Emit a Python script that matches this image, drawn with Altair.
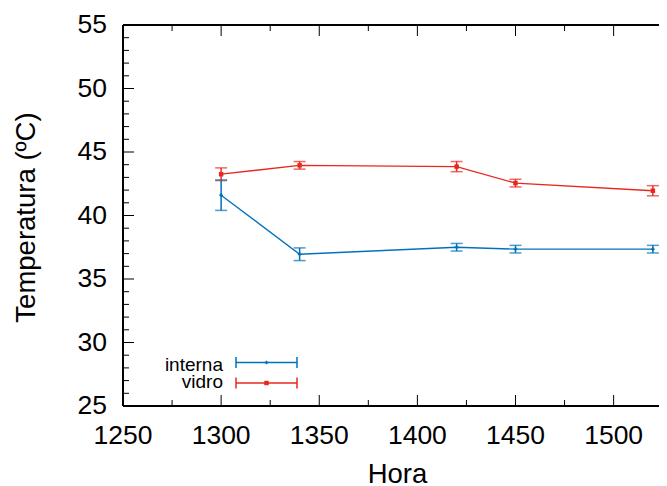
import altair as alt
import pandas as pd

# ---- data ----
hora = [1300, 1340, 1420, 1450, 1520]
interna = [41.6, 36.95, 37.5, 37.35, 37.35]
interna_err = [1.2, 0.5, 0.3, 0.3, 0.3]
vidro = [43.25, 43.95, 43.85, 42.55, 41.95]
vidro_err = [0.5, 0.3, 0.4, 0.3, 0.4]
series_names = ["interna", "vidro"]
series_colors = ["#0072bd", "#e8281e"]
x_labels = [1250, 1300, 1350, 1400, 1450, 1500]
y_labels = [25, 30, 35, 40, 45, 50, 55]
x_major = [1300, 1350, 1400, 1450, 1500]
x_minor = [1275, 1325, 1375, 1425, 1475]
y_major = [30, 35, 40, 45, 50]
y_minor = [v for v in range(26, 55) if v % 5 != 0]
x_title = "Hora"
y_title = "Temperatura (ºC)"

rows = []
for name, vals, errs in [("interna", interna, interna_err), ("vidro", vidro, vidro_err)]:
    for h, v, e in zip(hora, vals, errs):
        rows.append({"hora": h, "serie": name, "temp": v, "lo": v - e, "hi": v + e})
df = pd.DataFrame(rows)

W, H = 536, 381
FONT = "Liberation Sans"
FS = 26.5
TFS = 27.5
MAJ, MIN = 11, 6

xscale = alt.Scale(domain=[1250, 1250 + W / 1.9625], nice=False, zero=False)
yscale = alt.Scale(domain=[25, 55], nice=False, zero=False)
color = alt.Color("serie:N", scale=alt.Scale(domain=series_names, range=series_colors), legend=None)


def X(f):
    return alt.X(f, scale=xscale, axis=None)


def Y(f):
    return alt.Y(f, scale=yscale, axis=None)


base = alt.Chart(df)
lines = base.mark_line(strokeWidth=1.3).encode(x=X("hora:Q"), y=Y("temp:Q"), color=color, detail="serie:N")
bars = base.mark_rule(strokeWidth=1.5).encode(x=X("hora:Q"), y=Y("lo:Q"), y2="hi:Q", color=color)
cap_lo = base.mark_tick(orient="horizontal", size=12, thickness=1.5).encode(x=X("hora:Q"), y=Y("lo:Q"), color=color)
cap_hi = base.mark_tick(orient="horizontal", size=12, thickness=1.5).encode(x=X("hora:Q"), y=Y("hi:Q"), color=color)
pts_int = alt.Chart(df[df.serie == "interna"]).mark_point(shape="cross", size=14, filled=True, opacity=1).encode(
    x=X("hora:Q"), y=Y("temp:Q"), color=color)
pts_vid = alt.Chart(df[df.serie == "vidro"]).mark_point(shape="square", size=20, filled=True, opacity=1).encode(
    x=X("hora:Q"), y=Y("temp:Q"), color=color)

# ---- frame with inward ticks (gnuplot style) ----
one = pd.DataFrame({"k": [0]})
frame = [
    alt.Chart(one).mark_rule(color="black", strokeWidth=2).encode(x=alt.value(0), x2=alt.value(W), y=alt.value(0)),
    alt.Chart(one).mark_rule(color="black", strokeWidth=2).encode(x=alt.value(0), x2=alt.value(W), y=alt.value(H)),
    alt.Chart(one).mark_rule(color="black", strokeWidth=2).encode(x=alt.value(0), y=alt.value(0), y2=alt.value(H)),
]
ticks = []
for vals, ln in [(y_major, MAJ), (y_minor, MIN)]:
    d = pd.DataFrame({"v": vals})
    ticks.append(alt.Chart(d).mark_rule(color="black", strokeWidth=1).encode(
        y=Y("v:Q"), x=alt.value(0), x2=alt.value(ln)))
for vals, ln in [(x_major, MAJ), (x_minor, MIN)]:
    d = pd.DataFrame({"v": vals})
    ticks.append(alt.Chart(d).mark_rule(color="black", strokeWidth=1).encode(
        x=X("v:Q"), y=alt.value(H), y2=alt.value(H - ln)))
    ticks.append(alt.Chart(d).mark_rule(color="black", strokeWidth=1).encode(
        x=X("v:Q"), y=alt.value(0), y2=alt.value(ln)))

# ---- tick labels and axis titles ----
xl = alt.Chart(pd.DataFrame({"v": x_labels})).mark_text(
    font=FONT, fontSize=FS, color="black", align="center", baseline="alphabetic").encode(
    x=X("v:Q"), y=alt.value(H + 37.5), text=alt.Text("v:Q", format="d"))
yl = alt.Chart(pd.DataFrame({"v": y_labels})).mark_text(
    font=FONT, fontSize=FS, color="black", align="right", baseline="middle").encode(
    y=Y("v:Q"), x=alt.value(-16), text=alt.Text("v:Q", format="d"))
xt = alt.Chart(pd.DataFrame({"t": [x_title]})).mark_text(
    font=FONT, fontSize=TFS, color="black", align="center", baseline="alphabetic").encode(
    x=alt.value(274.5), y=alt.value(H + 76.5), text="t:N")
yt = alt.Chart(pd.DataFrame({"t": [y_title]})).mark_text(
    font=FONT, fontSize=TFS, color="black", align="center", baseline="alphabetic", angle=270).encode(
    x=alt.value(-88.5), y=alt.value(192.5), text="t:N")

# ---- legend (lower left, gnuplot style) ----
legend = []
leg_y = [337.5, 358]
leg_text_y = [345.5, 363]
lx0, lx1 = 113, 174
for name, col, ly, ty in zip(series_names, series_colors, leg_y, leg_text_y):
    ld = pd.DataFrame({"serie": [name]})
    legend.append(alt.Chart(ld).mark_text(align="right", baseline="alphabetic", font=FONT, fontSize=19,
                                          color="black").encode(
        text="serie:N", x=alt.value(100), y=alt.value(ty)))
    legend.append(alt.Chart(ld).mark_rule(color=col, strokeWidth=1.5).encode(
        x=alt.value(lx0), x2=alt.value(lx1), y=alt.value(ly)))
    for cx in (lx0, lx1):
        legend.append(alt.Chart(ld).mark_rule(color=col, strokeWidth=1.5).encode(
            x=alt.value(cx), y=alt.value(ly - 5.5), y2=alt.value(ly + 5.5)))
    legend.append(alt.Chart(ld).mark_point(shape="cross" if name == "interna" else "square",
                                           size=14 if name == "interna" else 20,
                                           filled=True, color=col, opacity=1).encode(
        x=alt.value((lx0 + lx1) / 2), y=alt.value(ly)))

chart = alt.layer(lines, bars, cap_lo, cap_hi, pts_int, pts_vid, *frame, *ticks,
                  xl, yl, xt, yt, *legend).properties(
    width=W, height=H, autosize="none",
    padding={"left": 115, "top": 17, "right": 0, "bottom": 80},
).configure_view(stroke="transparent").configure(background="white")

chart.save("out.html", embed_options={"renderer": "svg", "actions": False})
